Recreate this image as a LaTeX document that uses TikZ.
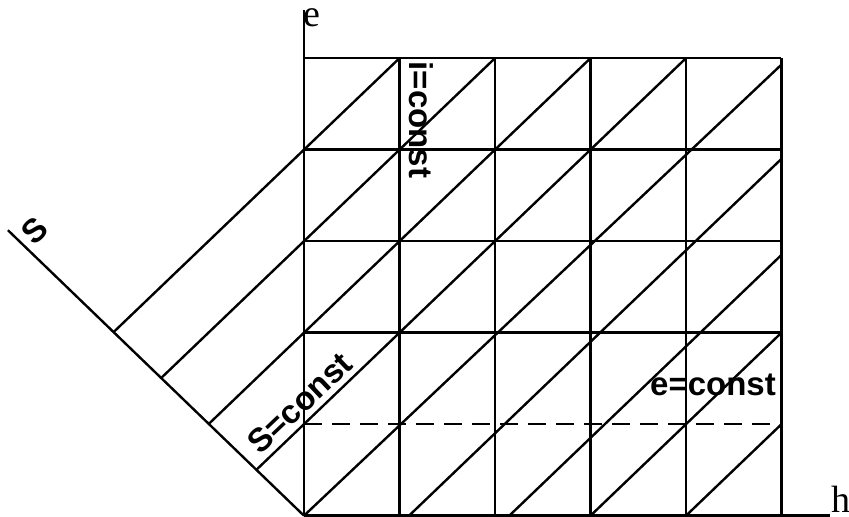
\documentclass[tikz,border=0pt]{standalone}
\usepackage{fontspec}
\setmainfont{Liberation Serif}
\setsansfont{Liberation Sans}
\usepackage{tikz}
\usetikzlibrary{calc}

\begin{document}
\begin{tikzpicture}[x=95.5pt,y=91.5pt,line width=2.4pt,
    lbl/.style={font=\sffamily\bfseries\fontsize{33}{33}\selectfont,inner sep=0pt},
    axlbl/.style={font=\fontsize{38}{38}\selectfont,inner sep=0pt}]
  \useasboundingbox (-3.183,-0.014) rectangle (5.707,5.636);
  % grid
  \foreach \i in {0,...,5} \draw (\i,0)--(\i,5);
  \foreach \j in {2,...,5} \draw (0,\j)--(5,\j);
  \draw[dash pattern=on 18pt off 10pt] (0,1)--(5,1);
  % axes
  \draw (0,0)--(0,5.53) coordinate (etop);
  \draw (0,0)--(5.51,0) coordinate (hend);
  \draw (0,0)--(-3.1,3.12) coordinate (stop);
  % S=const lines
  \foreach \c in {1,...,4} \draw (-\c/2,\c/2)--(5-\c,5);
  \draw (0,0)--(5,4.93);
  \foreach \x in {1.1,2.15,3,4} \draw (\x,0)--(5,5-\x);
  % labels
  \node[axlbl,anchor=north west] (elbl) at ($(etop)+(-0.015,0.02)$) {e};
  \node[axlbl,anchor=base west] (hlbl) at ($(hend)+(0,0.04)$) {h};
  \node[lbl,rotate=43.5] (slbl) at (-2.817,3.11) {S};
  \node[lbl,rotate=43.5] (sconst) at (-0.042,1.232) {S=const};
  \node[lbl,rotate=-90] (iconst) at (1.23,4.325) {i=const};
  \node[lbl,anchor=base east] (econst) at (4.953,1.31) {e=const};
\end{tikzpicture}
\end{document}
